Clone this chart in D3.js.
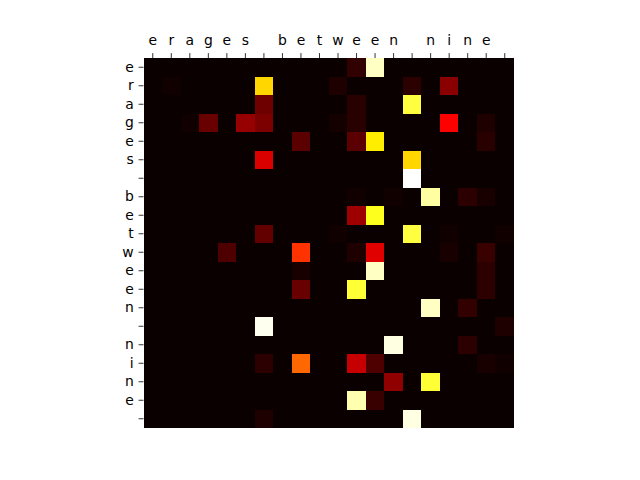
<!DOCTYPE html>
<html><head><meta charset="utf-8">
<script src="https://cdn.jsdelivr.net/npm/d3@7"></script>
<style>body{margin:0;background:#fff}</style>
</head><body>
<svg id="c" width="640" height="480"></svg>
<script>
const xLabels = ["e","r","a","g","e","s"," ","b","e","t","w","e","e","n"," ","n","i","n","e"," "];
const yLabels = ["e","r","a","g","e","s"," ","b","e","t","w","e","e","n"," ","n","i","n","e"," "];
// sparse non-background cells: [row, col, value]
const cells = [
 [0,11,0.057],[0,12,0.94],
 [1,1,0.01],[1,6,0.685],[1,10,0.03],[1,14,0.05],[1,16,0.19],
 [2,6,0.15],[2,11,0.045],[2,14,0.81],
 [3,2,0.01],[3,3,0.14],[3,5,0.21],[3,6,0.17],[3,10,0.015],[3,11,0.045],[3,16,0.365],[3,18,0.03],
 [4,8,0.12],[4,11,0.12],[4,12,0.72],[4,18,0.045],
 [5,6,0.31],[5,14,0.685],
 [6,14,1.0],
 [7,11,0.01],[7,13,0.01],[7,15,0.906],[7,17,0.05],[7,18,0.02],
 [8,11,0.22],[8,12,0.776],
 [9,6,0.13],[9,10,0.01],[9,14,0.81],[9,16,0.01],[9,19,0.01],
 [10,4,0.1],[10,8,0.44],[10,11,0.03],[10,12,0.32],[10,16,0.02],[10,18,0.07],
 [11,8,0.02],[11,12,0.94],[11,18,0.05],
 [12,8,0.14],[12,11,0.8],[12,18,0.05],
 [13,15,0.94],[13,17,0.06],
 [14,6,0.985],[14,19,0.03],
 [15,13,0.97],[15,17,0.05],
 [16,6,0.05],[16,8,0.52],[16,11,0.28],[16,12,0.1],[16,18,0.02],[16,19,0.01],
 [17,13,0.2],[17,15,0.8],
 [18,11,0.92],[18,12,0.07],
 [19,6,0.03],[19,14,0.97]
];

function hot(v){
  v=Math.max(0,Math.min(1,v));
  const r = v<0.365079 ? 0.0416+(1-0.0416)*v/0.365079 : 1;
  const g = v<0.365079 ? 0 : (v<0.746032 ? (v-0.365079)/(0.746032-0.365079) : 1);
  const b = v<0.746032 ? 0 : (v-0.746032)/(1-0.746032);
  return d3.rgb(r*255,g*255,b*255).toString();
}

const n = yLabels.length, m = xLabels.length;
const grid = [];
for(let i=0;i<n;i++) for(let j=0;j<m;j++) grid.push({r:i,c:j,v:0});
cells.forEach(([r,c,v])=>{grid[r*m+c].v=v;});

const svg = d3.select("#c");
const L=143.5, T=58, W=370.5, H=370;
const x = d3.scaleBand().domain(d3.range(m)).range([L,L+W]);
const y = d3.scaleBand().domain(d3.range(n)).range([T,T+H]);
const vmax = d3.max(grid,d=>d.v);
svg.append("rect").attr("x",L).attr("y",T).attr("width",W).attr("height",H)
 .attr("fill",hot(0)).attr("shape-rendering","crispEdges");
svg.append("g").attr("shape-rendering","crispEdges").selectAll("rect")
 .data(grid.filter(d=>d.v>0)).join("rect")
 .attr("x",d=>Math.round(x(d.c))).attr("y",d=>Math.round(y(d.r)))
 .attr("width",d=>Math.round(x(d.c)+x.bandwidth())-Math.round(x(d.c)))
 .attr("height",d=>Math.round(y(d.r)+y.bandwidth())-Math.round(y(d.r)))
 .attr("fill",d=>hot(d.v/vmax));

const font = "DejaVu Sans";
const xa = d3.axisTop(x).tickFormat(i=>xLabels[i]).tickSize(4.9).tickPadding(4.9);
const gx = svg.append("g").attr("transform",`translate(0,${T})`).call(xa);
const ya = d3.axisLeft(y).tickFormat(i=>yLabels[i]).tickSize(4.9).tickPadding(4.9);
const gy = svg.append("g").attr("transform",`translate(${L},0)`).call(ya);
[gx,gy].forEach(g=>{
  g.select(".domain").remove();
  g.selectAll(".tick line").attr("stroke","#000").attr("stroke-width",0.8);
  g.selectAll("text").attr("font-family",font).attr("font-size",13.9).attr("fill","#000").style("white-space","pre");
});
gx.selectAll("text").attr("dy","-0.25em");
</script>
</body></html>
